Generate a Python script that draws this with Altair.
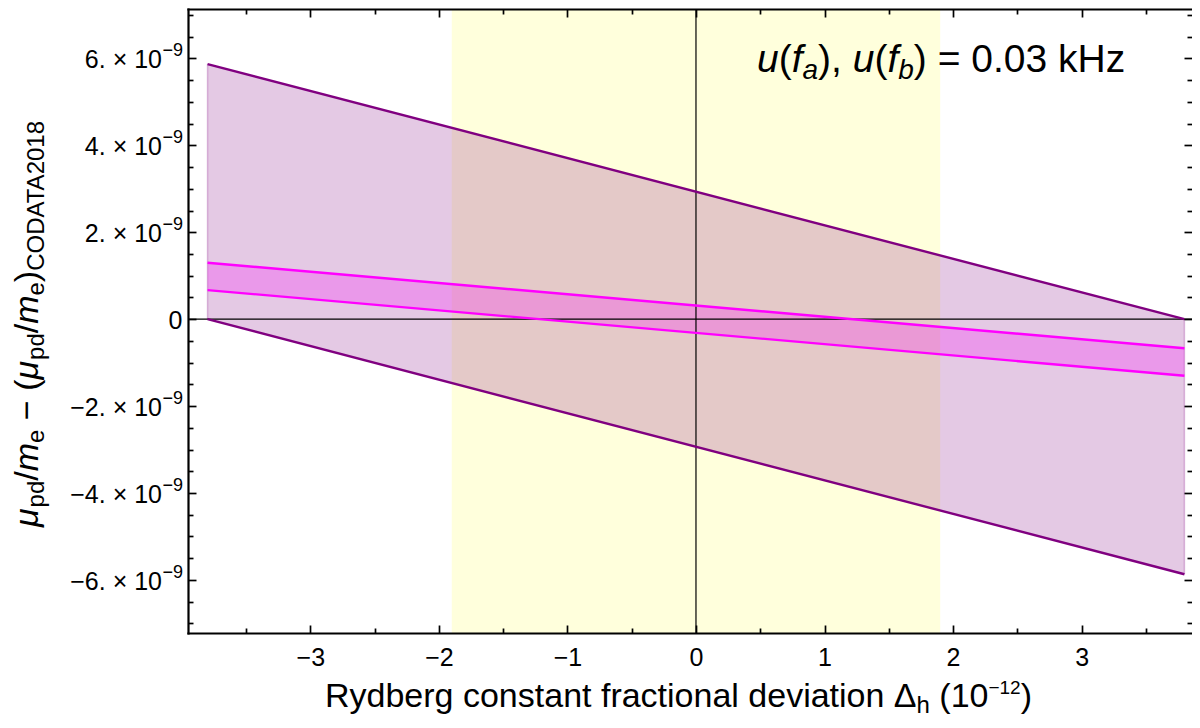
import altair as alt
import pandas as pd

# ---------------- data ----------------
x_ends = [-3.8, 3.8]                      # Rydberg deviation range (1e-12)
purple_upper = [5.87e-9, 0.0]
purple_lower = [0.0, -5.87e-9]
magenta_upper = [1.30e-9, -0.67e-9]
magenta_lower = [0.67e-9, -1.30e-9]
rydberg_band = [-1.9, 1.9]                # light-yellow band
zero_line = [0.0]

x_major = [-3, -2, -1, 0, 1, 2, 3]
x_minor = [-3.5, -2.5, -1.5, -0.5, 0.5, 1.5, 2.5, 3.5]
y_major = [-6e-9, -4e-9, -2e-9, 2e-9, 4e-9, 6e-9]
y_zero = [0.0]
y_minor = [-7.0e-9, -6.5e-9, -5.5e-9, -5.0e-9, -4.5e-9, -3.5e-9, -3.0e-9,
           -2.5e-9, -1.5e-9, -1.0e-9, -0.5e-9, 0.5e-9, 1.0e-9, 1.5e-9,
           2.5e-9, 3.0e-9, 3.5e-9, 4.5e-9, 5.0e-9, 5.5e-9, 6.5e-9, 7.0e-9]
y_label_base = ["\u22126. \u00d7 10", "\u22124. \u00d7 10", "\u22122. \u00d7 10",
                "2. \u00d7 10", "4. \u00d7 10", "6. \u00d7 10"]
y_label_exp = ["\u22129"] * 6

X_DOMAIN = [-3.952, 3.859]
Y_DOMAIN = [-7.222e-9, 7.139e-9]

# ---------------- layout ----------------
W, H = 1004, 624
FONT = "Liberation Sans"
PURPLE = "#800080"
MAGENTA = "#FF00FF"

xs = alt.Scale(domain=X_DOMAIN, nice=False, zero=False)
ys = alt.Scale(domain=Y_DOMAIN, nice=False, zero=False)

fill_df = pd.DataFrame({"x": x_ends, "lo": purple_lower, "hi": purple_upper})
mag_df = pd.DataFrame({"x": x_ends, "lo": magenta_lower, "hi": magenta_upper})
rows = []
for name, kind, vals in [("pu", "purple", purple_upper), ("pl", "purple", purple_lower),
                         ("mu", "magenta", magenta_upper), ("ml", "magenta", magenta_lower)]:
    for xv, yv in zip(x_ends, vals):
        rows.append({"x": xv, "y": yv, "line": name, "kind": kind})
lines_df = pd.DataFrame(rows)
band_df = pd.DataFrame({"a": [rydberg_band[0]], "b": [rydberg_band[1]]})
zero_df = pd.DataFrame({"z": zero_line})
one = pd.DataFrame({"k": [0]})


def ax(orient, **kw):
    base = dict(orient=orient, grid=False, title=None, zindex=2, labelFlush=False)
    base.update(kw)
    return alt.Axis(**base)


def tick_axis(orient, values, size):
    return ax(orient, values=values, labels=False, domain=False, ticks=True,
              tickSize=size, tickWidth=1.7, tickColor="black", offset=-size)


bottom_main = ax("bottom", values=x_major, format="d", labels=True, ticks=False, tickSize=0,
                 domain=True, domainColor="black", domainWidth=2.2, domainCap="square",
                 labelFont=FONT, labelFontSize=25, labelColor="black", labelPadding=12)
left_main = ax("left", values=y_major, labels=False, ticks=False, tickSize=0,
               domain=True, domainColor="black", domainWidth=2.2, domainCap="square")
top_main = ax("top", values=x_major, labels=False, ticks=False, tickSize=0,
              domain=True, domainColor="black", domainWidth=2.2, domainCap="square")

# ---------------- marks ----------------
band = alt.Chart(band_df).mark_rect(color="#FFFFDC").encode(
    x=alt.X("a:Q", scale=xs, axis=None), x2="b:Q",
    y=alt.value(0), y2=alt.value(H))

purple_fill = alt.Chart(fill_df).mark_area(color=PURPLE, opacity=0.21).encode(
    x=alt.X("x:Q", scale=xs, axis=bottom_main),
    y=alt.Y("lo:Q", scale=ys, axis=left_main), y2="hi:Q")

purple_edges = alt.Chart(fill_df).mark_rule(color=PURPLE, opacity=0.25, strokeWidth=1.5).encode(
    x=alt.X("x:Q", scale=xs, axis=None),
    y=alt.Y("lo:Q", scale=ys, axis=None), y2="hi:Q")

magenta_fill = alt.Chart(mag_df).mark_area(color=MAGENTA, opacity=0.24).encode(
    x=alt.X("x:Q", scale=xs, axis=tick_axis("bottom", x_major, 8)),
    y=alt.Y("lo:Q", scale=ys, axis=tick_axis("left", y_major + y_zero, 8)), y2="hi:Q")

zero_h = alt.Chart(zero_df).mark_rule(color="black", strokeWidth=1.2).encode(
    y=alt.Y("z:Q", scale=ys, axis=None))
zero_v = alt.Chart(zero_df).mark_rule(color="black", strokeWidth=1.2).encode(
    x=alt.X("z:Q", scale=xs, axis=None))

lines = alt.Chart(lines_df).mark_line(strokeWidth=2.4).encode(
    x=alt.X("x:Q", scale=xs, axis=tick_axis("bottom", x_minor, 5)),
    y=alt.Y("y:Q", scale=ys, axis=tick_axis("left", y_minor, 5)),
    color=alt.Color("kind:N", scale=alt.Scale(domain=["purple", "magenta"],
                                              range=[PURPLE, MAGENTA]), legend=None),
    detail="line:N")

host1 = alt.Chart(lines_df).mark_point(opacity=0).encode(
    x=alt.X("x:Q", scale=xs, axis=tick_axis("top", x_major, 8)),
    y=alt.Y("y:Q", scale=ys, axis=tick_axis("right", y_major + y_zero, 8)))
host2 = alt.Chart(lines_df).mark_point(opacity=0).encode(
    x=alt.X("x:Q", scale=xs, axis=tick_axis("top", x_minor, 5)),
    y=alt.Y("y:Q", scale=ys, axis=tick_axis("right", y_minor, 5)))
host3 = alt.Chart(lines_df).mark_point(opacity=0).encode(
    x=alt.X("x:Q", scale=xs, axis=top_main),
    y=alt.Y("y:Q", scale=ys, axis=None))

# y tick labels  "6. x 10^-9"
ylab_df = pd.DataFrame({"v": y_major, "b": y_label_base, "e": y_label_exp})
ylab_base = alt.Chart(ylab_df).mark_text(align="right", baseline="alphabetic", font=FONT,
                                         fontSize=25, dy=10, color="black").encode(
    y=alt.Y("v:Q", scale=ys, axis=None), x=alt.value(-26), text="b:N")
ylab_exp = alt.Chart(ylab_df).mark_text(align="left", baseline="alphabetic", font=FONT,
                                        fontSize=18, dy=-2, color="black").encode(
    y=alt.Y("v:Q", scale=ys, axis=None), x=alt.value(-25.5), text="e:N")
yzero_df = pd.DataFrame({"v": y_zero, "t": ["0"]})
ylab_zero = alt.Chart(yzero_df).mark_text(align="right", baseline="alphabetic", font=FONT,
                                          fontSize=25, dy=10, color="black").encode(
    y=alt.Y("v:Q", scale=ys, axis=None), x=alt.value(-5.5), text="t:N")

# ---------------- rich text helpers ----------------
WIDTHS = {" ": 278, "(": 333, ")": 333, ",": 278, ".": 278, "/": 278, "=": 584,
          "\u2212": 584, "\u00d7": 584, "\u0394": 668, "\u03bc": 576,
          "A": 667, "C": 722, "D": 722, "H": 722, "O": 778, "R": 722, "T": 611,
          "a": 556, "b": 556, "c": 500, "d": 556, "e": 556, "f": 278, "g": 556,
          "h": 556, "i": 222, "k": 500, "l": 222, "m": 833, "n": 556, "o": 556,
          "p": 556, "r": 333, "s": 500, "t": 278, "u": 556, "v": 500, "y": 500,
          "z": 500}


def text_width(s, fs):
    return sum(WIDTHS.get(ch, 556) for ch in s) * fs / 1000.0


def rich_text(pieces, x0, y0, vertical=False):
    out = []
    adv = 0.0
    for txt, style, fs, shift in pieces:
        core = txt.lstrip(" ")
        adv += (len(txt) - len(core)) * WIDTHS[" "] * fs / 1000.0
        body = core.rstrip(" ")
        if body:
            kw = dict(text=body, align="left", baseline="alphabetic", font=FONT,
                      fontSize=fs, fontStyle=style, color="black")
            if vertical:
                kw["angle"] = 270
                px, py = x0 + shift, y0 - adv
            else:
                px, py = x0 + adv, y0 + shift
            out.append(alt.Chart(one).mark_text(**kw).encode(x=alt.value(px), y=alt.value(py)))
        adv += text_width(core, fs)
    return out


MU = "\u03bc"
ytitle = rich_text([
    (MU, "italic", 34, 0), ("pd", "normal", 24, 6), ("/", "normal", 34, 0),
    ("m", "italic", 34, 0), ("e", "normal", 24, 6), (" \u2212 ", "normal", 34, 0),
    ("(", "normal", 34, 0), (MU, "italic", 34, 0), ("pd", "normal", 24, 6),
    ("/", "normal", 34, 0), ("m", "italic", 34, 0), ("e", "normal", 24, 6),
    (")", "normal", 34, 0), ("CODATA2018", "normal", 24, 6)],
    x0=-150, y0=518, vertical=True)

xtitle = rich_text([
    ("Rydberg constant fractional deviation ", "normal", 34, 0),
    ("\u0394", "normal", 34, 0), ("h", "normal", 24, 6),
    (" (10", "normal", 34, 0), ("\u221212", "normal", 19, -13), (")", "normal", 34, 0)],
    x0=137, y0=698)

annot = rich_text([
    ("u", "italic", 39, 0), ("(", "normal", 39, 0), ("f", "italic", 39, 0),
    ("a", "italic", 28, 7), (")", "normal", 39, 0), (", ", "normal", 39, 0),
    ("u", "italic", 39, 0), ("(", "normal", 39, 0), ("f", "italic", 39, 0),
    ("b", "italic", 28, 7), (")", "normal", 39, 0), (" = 0.03 kHz", "normal", 39, 0)],
    x0=569, y0=63)

chart = alt.layer(
    band, purple_fill, purple_edges, magenta_fill, zero_h, zero_v, lines,
    host1, host2, host3, ylab_base, ylab_exp, ylab_zero,
    *ytitle, *xtitle, *annot
).resolve_axis(x="independent", y="independent").properties(
    width=W, height=H,
    padding={"left": 180, "top": 1, "right": 0, "bottom": 90},
    autosize=alt.AutoSizeParams(type="none"),
).configure_view(strokeWidth=0)

chart.save("out.html", embed_options={"renderer": "svg", "actions": False})
